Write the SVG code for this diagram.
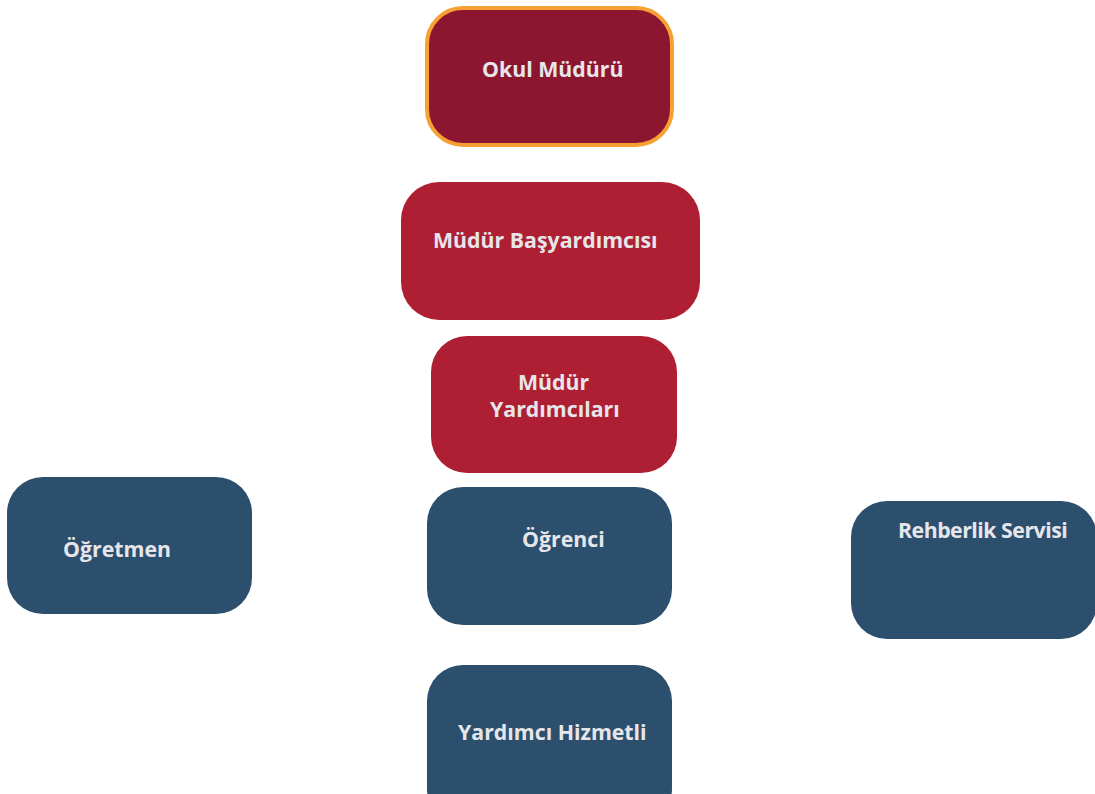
<svg xmlns="http://www.w3.org/2000/svg" width="1095" height="794" viewBox="0 0 1095 794">
<style>
.t{font-family:"Open Sans","Noto Sans","Liberation Sans",sans-serif;font-weight:bold;font-size:21.3px;fill:#E6E6EA;}
.dark{fill:#8C1630;}
.red{fill:#AE1F33;}
.blue{fill:#2C4F6D;}
</style>
<rect width="1095" height="794" fill="#FFFFFF"/>
<g id="connectors"></g>
<g id="okul-muduru">
<rect class="dark" x="427" y="8" width="245" height="137" rx="36" stroke="#F7A033" stroke-width="4"/>
<text class="t" x="482" y="77">Okul Müdürü</text>
</g>
<g id="mudur-basyardimcisi">
<rect class="red" x="401" y="182" width="299" height="138" rx="38"/>
<text class="t" x="433" y="248">Müdür Başyardımcısı</text>
</g>
<g id="mudur-yardimcilari">
<rect class="red" x="431" y="336" width="246" height="137" rx="36"/>
<text class="t" x="518" y="390">Müdür</text>
<text class="t" x="490" y="417">Yardımcıları</text>
</g>
<g id="ogretmen">
<rect class="blue" x="7" y="477" width="245" height="137" rx="36"/>
<text class="t" x="63" y="557">Öğretmen</text>
</g>
<g id="ogrenci">
<rect class="blue" x="427" y="487" width="245" height="138" rx="36"/>
<text class="t" x="522" y="547">Öğrenci</text>
</g>
<g id="rehberlik-servisi">
<rect class="blue" x="851" y="501" width="246" height="138" rx="36"/>
<text class="t" x="898" y="538" letter-spacing="-0.5">Rehberlik Servisi</text>
</g>
<g id="yardimci-hizmetli">
<rect class="blue" x="427" y="665" width="245" height="160" rx="36"/>
<text class="t" x="458" y="740">Yardımcı Hizmetli</text>
</g>
</svg>
